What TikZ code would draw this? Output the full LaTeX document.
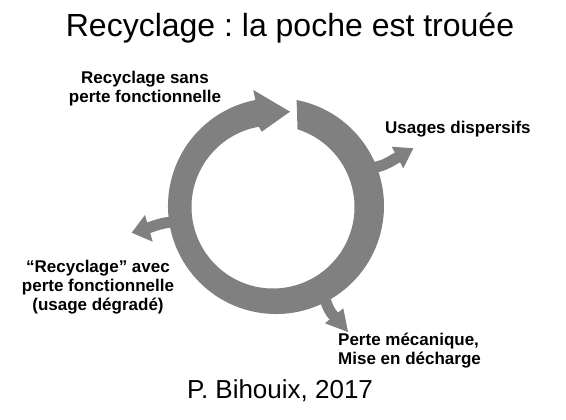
\documentclass[tikz,border=0pt]{standalone}
\usepackage{fontspec}
\setmainfont{Liberation Sans}
\frenchspacing
\definecolor{ringgray}{RGB}{128,128,128}
\begin{document}
\begin{tikzpicture}[x=1pt,y=1pt,
  ringfill/.style={fill=ringgray,draw=none},
  shaft/.style={draw=ringgray,line width=11pt,line cap=butt},
  headfill/.style={fill=ringgray,draw=none},
  lbl/.style={inner sep=0pt,font=\fontsize{17}{19}\selectfont\bfseries},
  title/.style={inner sep=0pt,font=\fontsize{32}{38}\selectfont},
  credit/.style={inner sep=0pt,font=\fontsize{26}{30}\selectfont}]
\fill[white] (0,0) rectangle (566,420);
\useasboundingbox (0,0) rectangle (566,420);
% ring with its arrowhead
\path[ringfill] (296.6,320.0) arc[start angle=79,end angle=-259,radius=108]
  -- (253.3,330) -- (290,308.3) -- (261.7,288.3)
  -- (258.85,293.26) arc[start angle=100,end angle=432.5,radius=81.5] -- cycle;
% branch to "Usages dispersifs"
\coordinate (b1s) at (366,252);
\coordinate (b1e) at (399,263.5);
\draw[shaft] (b1s) .. controls (382,252) and (389,258) .. (b1e);
\path[headfill] (391.7,273.3) -- (413.3,271.7) -- (403.3,251.7) -- cycle;
% branch to left label
\coordinate (b2s) at (182,198);
\coordinate (b2e) at (148,192);
\draw[shaft] (b2s) .. controls (166,199) and (157,195) .. (b2e);
\path[headfill] (145,205) -- (131.7,187.3) -- (152.7,178.3) -- cycle;
% branch to bottom label
\coordinate (b3s) at (322,132);
\coordinate (b3e) at (335.5,102.5);
\draw[shaft] (b3s) .. controls (326,116) and (329,108) .. (b3e);
\path[headfill] (325,96.7) -- (348,88) -- (343.3,111.7) -- cycle;
% texts (base anchor = baseline of the last line)
\node[title,anchor=base] (ttl) at (290,383) {Recyclage : la poche est trouée};
\node[lbl,anchor=base,align=center] (l1) at (145,317) {Recyclage sans\\perte fonctionnelle};
\node[lbl,anchor=base west] (l2) at (385,286) {Usages dispersifs};
\node[lbl,anchor=base,align=center] (l3) at (98,109) {“Recyclage” avec\\perte fonctionnelle\\(usage dégradé)};
\node[lbl,anchor=base west,align=left] (l4) at (338,55) {Perte mécanique,\\Mise en décharge};
\node[credit,anchor=base] (cr) at (280,21) {P. Bihouix, 2017};
\end{tikzpicture}
\end{document}
